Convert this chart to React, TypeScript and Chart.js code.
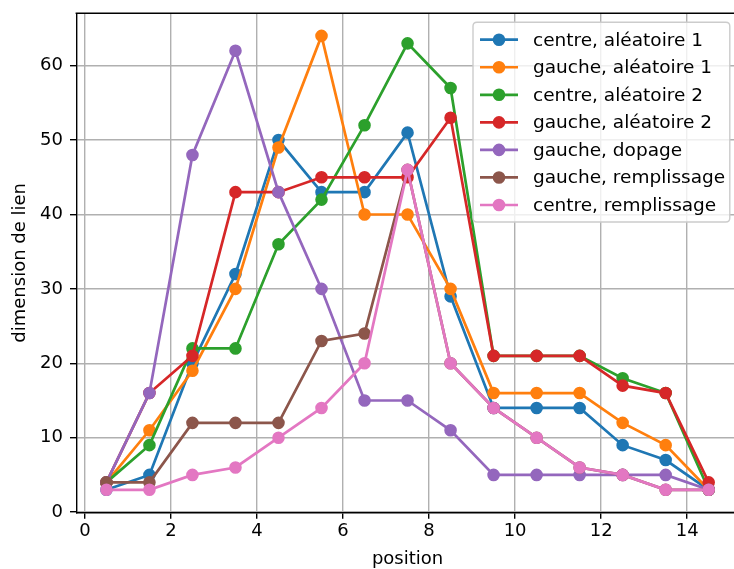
import { useEffect, useRef } from "react";
import { Chart, registerables } from "chart.js";

Chart.register(...registerables);

const positions = [0.5, 1.5, 2.5, 3.5, 4.5, 5.5, 6.5, 7.5, 8.5, 9.5, 10.5, 11.5, 12.5, 13.5, 14.5];

const centreAleatoire1 = [3, 5, 20, 32, 50, 43, 43, 51, 29, 14, 14, 14, 9, 7, 3];
const gaucheAleatoire1 = [4, 11, 19, 30, 49, 64, 40, 40, 30, 16, 16, 16, 12, 9, 3];
const centreAleatoire2 = [4, 9, 22, 22, 36, 42, 52, 63, 57, 21, 21, 21, 18, 16, 3];
const gaucheAleatoire2 = [4, 16, 21, 43, 43, 45, 45, 45, 53, 21, 21, 21, 17, 16, 4];
const gaucheDopage = [4, 16, 48, 62, 43, 30, 15, 15, 11, 5, 5, 5, 5, 5, 3];
const gaucheRemplissage = [4, 4, 12, 12, 12, 23, 24, 46, 20, 14, 10, 6, 5, 3, 3];
const centreRemplissage = [3, 3, 5, 6, 10, 14, 20, 46, 20, 14, 10, 6, 5, 3, 3];

const seriesLabels = [
  "centre, aléatoire 1",
  "gauche, aléatoire 1",
  "centre, aléatoire 2",
  "gauche, aléatoire 2",
  "gauche, dopage",
  "gauche, remplissage",
  "centre, remplissage",
];
const seriesValues = [
  centreAleatoire1,
  gaucheAleatoire1,
  centreAleatoire2,
  gaucheAleatoire2,
  gaucheDopage,
  gaucheRemplissage,
  centreRemplissage,
];
const colors = ["#1f77b4", "#ff7f0e", "#2ca02c", "#d62728", "#9467bd", "#8c564b", "#e377c2"];

const xTicks = [0, 2, 4, 6, 8, 10, 12, 14];
const yTicks = [0, 10, 20, 30, 40, 50, 60];

const FONT = "'DejaVu Sans', sans-serif";
const W = 746;
const H = 569;

const frameAndLegend = {
  id: "frameAndLegend",
  afterDraw(chart: any) {
    const { ctx, chartArea } = chart;
    ctx.save();
    ctx.strokeStyle = "#000";
    ctx.lineWidth = 1.4;
    ctx.beginPath();
    ctx.moveTo(chartArea.left - 0.7, chartArea.top);
    ctx.lineTo(chartArea.right + 0.7, chartArea.top);
    ctx.stroke();
    ctx.beginPath();
    ctx.moveTo(chartArea.right, chartArea.top);
    ctx.lineTo(chartArea.right, chartArea.bottom);
    ctx.stroke();

    const fs = 18.5;
    const boxRight = chartArea.right - 9;
    const boxLeft = 473;
    const boxTop = chartArea.top + 9;
    const rowH = 27.55;
    const firstRow = 39.7;
    const boxBottom = 222;
    const r = 4;
    ctx.beginPath();
    ctx.moveTo(boxLeft + r, boxTop);
    ctx.lineTo(boxRight - r, boxTop);
    ctx.quadraticCurveTo(boxRight, boxTop, boxRight, boxTop + r);
    ctx.lineTo(boxRight, boxBottom - r);
    ctx.quadraticCurveTo(boxRight, boxBottom, boxRight - r, boxBottom);
    ctx.lineTo(boxLeft + r, boxBottom);
    ctx.quadraticCurveTo(boxLeft, boxBottom, boxLeft, boxBottom - r);
    ctx.lineTo(boxLeft, boxTop + r);
    ctx.quadraticCurveTo(boxLeft, boxTop, boxLeft + r, boxTop);
    ctx.closePath();
    ctx.fillStyle = "rgba(255,255,255,0.8)";
    ctx.fill();
    ctx.strokeStyle = "#cccccc";
    ctx.lineWidth = 1.4;
    ctx.stroke();

    ctx.font = `${fs}px ${FONT}`;
    ctx.textAlign = "left";
    ctx.textBaseline = "middle";
    seriesLabels.forEach((label, i) => {
      const y = firstRow + i * rowH;
      ctx.strokeStyle = colors[i];
      ctx.lineWidth = 2.7;
      ctx.beginPath();
      ctx.moveTo(480, y);
      ctx.lineTo(518, y);
      ctx.stroke();
      ctx.beginPath();
      ctx.arc(499, y, 5.4, 0, Math.PI * 2);
      ctx.fillStyle = colors[i];
      ctx.fill();
      ctx.lineWidth = 1.8;
      ctx.stroke();
      ctx.fillStyle = "#000";
      ctx.fillText(label, 533, y + 1);
    });
    ctx.restore();
  },
};

export default function App() {
  const ref = useRef<HTMLCanvasElement | null>(null);

  useEffect(() => {
    document.body.style.margin = "0";
    document.body.style.overflow = "hidden";
    const canvas = ref.current;
    if (!canvas) return;
    const datasets = seriesLabels.map((label, i) => ({
      label,
      data: positions.map((x, j) => ({ x, y: seriesValues[i][j] })),
      borderColor: colors[i],
      backgroundColor: colors[i],
      pointBackgroundColor: colors[i],
      pointBorderColor: colors[i],
      borderWidth: 2.7,
      pointRadius: 5.4,
      pointBorderWidth: 1.8,
      pointHoverRadius: 5.4,
      tension: 0,
      fill: false,
      order: seriesLabels.length - i,
    }));
    const chart = new Chart(canvas, {
      type: "line",
      data: { datasets },
      plugins: [frameAndLegend],
      options: {
        responsive: false,
        animation: false,
        devicePixelRatio: 1,
        layout: { padding: { top: 13.2, right: 0.6, left: 0, bottom: 0 } },
        plugins: {
          legend: { display: false },
          tooltip: { enabled: false },
        },
        scales: {
          x: {
            type: "linear",
            min: -0.2,
            max: 15.2,
            afterFit: (scale: any) => {
              scale.height = H - 512.5;
              scale.paddingLeft = 0;
              scale.paddingRight = 0;
            },
            afterBuildTicks: (scale: any) => {
              scale.ticks = xTicks.map((v) => ({ value: v }));
            },
            grid: {
              color: "#b0b0b0",
              lineWidth: 1.4,
              tickColor: "#000",
              tickLength: 6.3,
              tickWidth: 1.4,
            },
            border: { color: "#000", width: 1.4 },
            ticks: {
              color: "#000",
              font: { family: FONT, size: 18 },
              padding: 2,
              maxRotation: 0,
              autoSkip: false,
            },
            title: {
              display: true,
              text: "position",
              color: "#000",
              font: { family: FONT, size: 18 },
              padding: { top: 0, bottom: -1 },
            },
          },
          y: {
            type: "linear",
            min: -0.05,
            max: 67.05,
            afterFit: (scale: any) => {
              scale.width = 76.3;
              scale.paddingTop = 0;
              scale.paddingBottom = 0;
            },
            afterBuildTicks: (scale: any) => {
              scale.ticks = yTicks.map((v) => ({ value: v }));
            },
            grid: {
              color: "#b0b0b0",
              lineWidth: 1.4,
              tickColor: "#000",
              tickLength: 6.3,
              tickWidth: 1.4,
            },
            border: { color: "#000", width: 1.4 },
            ticks: {
              color: "#000",
              font: { family: FONT, size: 18 },
              padding: 7,
              autoSkip: false,
            },
            title: {
              display: true,
              text: "dimension de lien",
              color: "#000",
              font: { family: FONT, size: 18 },
              padding: { top: 10, bottom: 0 },
            },
          },
        },
      },
    });
    return () => chart.destroy();
  }, []);

  return (
    <div style={{ width: 734, height: H, overflow: "hidden", background: "#fff" }}>
      <canvas ref={ref} width={W} height={H} style={{ width: W, height: H, display: "block" }} />
    </div>
  );
}
